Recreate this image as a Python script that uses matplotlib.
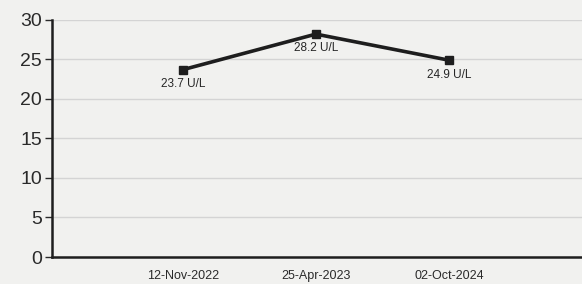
import matplotlib

matplotlib.use("Agg")

import matplotlib.pyplot as plt

dates = ["12-Nov-2022", "25-Apr-2023", "02-Oct-2024"]
values = [23.7, 28.2, 24.9]
unit = "U/L"
y_ticks = [0, 5, 10, 15, 20, 25, 30]

BG = "#f1f1ef"
INK = "#1e1e1e"

plt.rcParams["font.family"] = ["Liberation Sans", "DejaVu Sans"]

fig = plt.figure(figsize=(5.82, 2.84), dpi=100, facecolor=BG)
ax = fig.add_axes([0.089, 0.095, 0.911, 0.835], facecolor=BG)

xs = list(range(len(dates)))
ax.plot(xs, values, "s-", color=INK, linewidth=2.6, markersize=6)

for x, v in zip(xs, values):
    ax.annotate(f"{v} {unit}", (x, v), textcoords="offset points", xytext=(0, -6),
                ha="center", va="top", fontsize=8.5, color="#262626")

ax.set_xlim(-0.985, 3.0)
ax.set_ylim(0, 30)
ax.set_yticks(y_ticks)
ax.set_xticks(xs)
ax.set_xticklabels(dates)
ax.tick_params(axis="y", labelsize=14, colors="#2a2a2a", length=5, width=1, pad=2)
ax.tick_params(axis="x", labelsize=9, colors="#2a2a2a", length=0, pad=9)
ax.yaxis.grid(True, color="#d4d4d4", linewidth=1)
ax.set_axisbelow(True)

for side in ("top", "right"):
    ax.spines[side].set_visible(False)
for side in ("left", "bottom"):
    ax.spines[side].set_color(INK)
    ax.spines[side].set_linewidth(1.8)

fig.savefig("out.png", dpi=100, facecolor=BG)
